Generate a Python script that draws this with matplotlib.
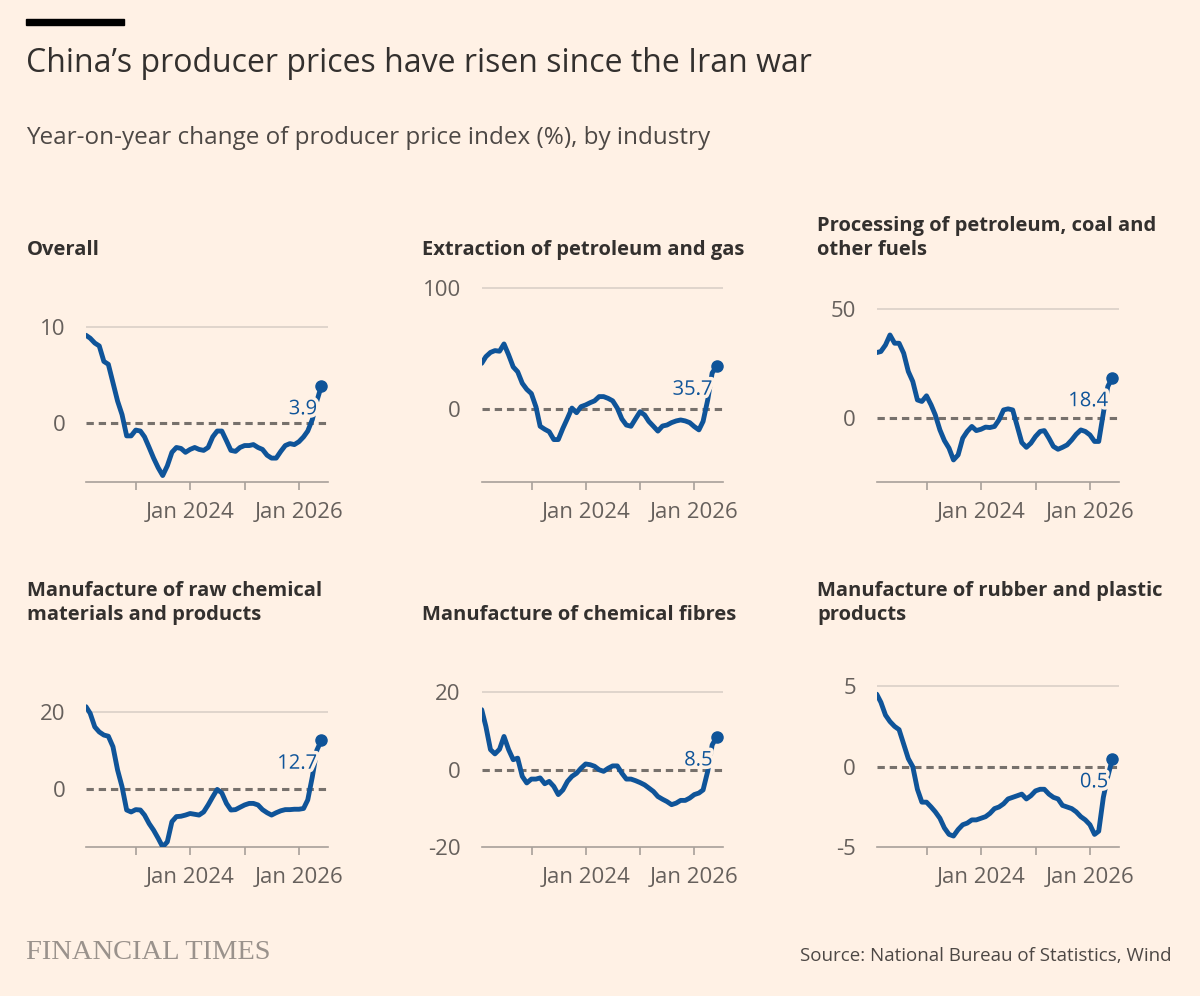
import numpy as np
import pandas as pd
import matplotlib
matplotlib.use('Agg')
import matplotlib.pyplot as plt
import matplotlib.patheffects as pe

# data: monthly y/y change, Jan 2022 .. May 2026
dates = pd.date_range('2022-01-31', '2026-05-31', freq='ME')

titles = [
    "Overall",
    "Extraction of petroleum and gas",
    "Processing of petroleum, coal and\nother fuels",
    "Manufacture of raw chemical\nmaterials and products",
    "Manufacture of chemical fibres",
    "Manufacture of rubber and plastic\nproducts",
]

overall = [9.1, 8.8, 8.3, 8.0, 6.4, 6.1, 4.2, 2.3, 0.9, -1.3, -1.3, -0.7,
           -0.8, -1.4, -2.5, -3.6, -4.6, -5.4, -4.4, -3.0, -2.5, -2.6, -3.0, -2.7,
           -2.5, -2.7, -2.8, -2.5, -1.4, -0.8, -0.8, -1.8, -2.8, -2.9, -2.5, -2.3,
           -2.3, -2.2, -2.5, -2.7, -3.3, -3.6, -3.6, -2.9, -2.3, -2.1, -2.2, -1.9,
           -1.4, -0.8, 0.4, 2.3, 3.9]

extraction = [38, 43.5, 47, 48.5, 48, 54, 45, 35, 31, 21.5, 16.5, 13,
              2, -14, -16.5, -18.5, -25, -25, -15.7, -7.4, 1, -2.8, 2.2, 3.6,
              5.5, 7, 10.5, 10.5, 9, 7, 1, -8, -13, -14, -8, -2,
              -4.7, -10, -14, -18, -13.8, -13, -11, -9.6, -8.8, -9.6, -11, -14.3,
              -17, -10, 7.7, 30, 35.7]

processing = [29.9, 30.4, 33.4, 38, 34.2, 34.2, 29.6, 21.2, 16.6, 8.1, 7.4, 10,
              5.8, 1.2, -5.7, -10.6, -14.1, -19.5, -17.2, -9.5, -6.4, -4.1, -6, -5.4,
              -4.4, -4.6, -4.1, -1.1, 3.5, 4, 3.5, -4.1, -11.5, -13.7, -11.8, -8.7,
              -6.4, -6, -9.5, -13.3, -14.6, -13.7, -12.6, -10.3, -7.7, -5.7, -6.4, -8,
              -11, -11, 2, 14.3, 18.4]

chemical = [21.3, 19.6, 16.1, 14.8, 14, 13.7, 11, 5, 0.7, -5.3, -5.8, -5.2,
            -5.3, -6.6, -8.8, -10.5, -12.6, -14.8, -13.5, -8.3, -7, -6.9, -6.6, -6.2,
            -6.4, -6.6, -5.8, -4, -1.9, 0, -0.9, -3.6, -5.3, -5.2, -4.6, -4,
            -3.6, -3.6, -4, -5.2, -6, -6.6, -6, -5.5, -5.2, -5.2, -5.1, -5.1,
            -4.9, -2.7, 3.3, 10.1, 12.7]

fibres = [15.5, 11.2, 5.2, 4.1, 5.3, 8.6, 5.2, 2.6, 3, -1.7, -3.4, -2.4,
          -2.4, -2.1, -3.6, -3, -4.3, -6.4, -5.2, -3, -1.7, -0.9, 0.4, 1.5,
          1.3, 0.9, 0, -0.4, 0.4, 1, 1, -0.9, -2.4, -2.4, -2.8, -3.3,
          -3.9, -4.7, -5.6, -6.9, -7.6, -8.2, -9, -8.6, -7.9, -7.9, -7.3, -6.4,
          -6, -5.2, -0.4, 6.4, 8.5]

rubber = [4.5, 4.0, 3.2, 2.8, 2.5, 2.3, 1.4, 0.5, 0, -1.4, -2.2, -2.2,
          -2.5, -2.8, -3.2, -3.8, -4.2, -4.3, -3.9, -3.6, -3.5, -3.3, -3.3, -3.2,
          -3.1, -2.9, -2.6, -2.5, -2.3, -2.0, -1.9, -1.8, -1.7, -2.0, -1.8, -1.5,
          -1.4, -1.4, -1.7, -1.9, -2.0, -2.4, -2.5, -2.6, -2.8, -3.1, -3.3, -3.6,
          -4.2, -4.0, -1.9, -0.6, 0.5]

series = [overall, extraction, processing, chemical, fibres, rubber]
yticks = [[0, 10], [0, 100], [0, 50], [0, 20], [-20, 0, 20], [-5, 0, 5]]
ylims = [(-6.1, 14.3), (-60.3, 102.7), (-29.8, 61), (-14.9, 35.9), (-20, 30.9), (-5, 7.24)]

BG = '#FFF1E5'
BLUE = '#0F5499'
DARK = '#33302E'
GREY = '#66605C'

plt.rcParams['font.family'] = ['Open Sans', 'DejaVu Sans']

fig = plt.figure(figsize=(12, 9.96), dpi=100)
fig.patch.set_facecolor(BG)

W, H = 1200, 996
def px(x0, y0, x1, y1):
    return [x0 / W, 1 - y1 / H, (x1 - x0) / W, (y1 - y0) / H]

cols = [(86, 328), (481.7, 723.3), (876.7, 1119)]
rows = [(285, 482.3), (650, 847.3)]
title_x = [27, 422, 817]
title_y = [260, 625]

# top bar + headings
fig.patches.append(plt.Rectangle((26 / W, 1 - 25.5 / H), 98 / W, 6.5 / H,
                                 transform=fig.transFigure, color='black'))
fig.text(26 / W, 1 - 64 / H, "China\u2019s producer prices have risen since the Iran war",
         fontsize=23, color=DARK, va='center', ha='left')
fig.text(26 / W, 1 - 138 / H, "Year-on-year change of producer price index (%), by industry",
         fontsize=17.5, color='#4D4845', va='center', ha='left')

for i, vals in enumerate(series):
    r, c = divmod(i, 3)
    ax = fig.add_axes(px(cols[c][0], rows[r][0], cols[c][1], rows[r][1]))
    ax.set_facecolor('none')
    ax.set_xlim(pd.Timestamp('2022-01-31'), pd.Timestamp('2026-07-14'))
    ax.set_ylim(*ylims[i])

    for t in yticks[i]:
        if t == 0:
            ax.axhline(0, color='#77716C', lw=2.2, ls=(0, (2.4, 1.6)), zorder=2)
        elif t != ylims[i][0]:
            ax.axhline(t, color='#DDD3CA', lw=1.3, zorder=1)

    ax.plot(dates, vals, color=BLUE, lw=3.5, solid_capstyle='round',
            solid_joinstyle='round', zorder=3)
    ax.plot(dates[-1], vals[-1], 'o', color=BLUE, ms=8, zorder=4)
    ax.annotate(f"{vals[-1]:.1f}", (dates[-1], vals[-1]), xytext=(-3, -17),
                textcoords='offset points', ha='right', va='center',
                fontsize=14.5, color=BLUE, zorder=5,
                path_effects=[pe.withStroke(linewidth=5, foreground=BG)])

    for s in ['top', 'right', 'left']:
        ax.spines[s].set_visible(False)
    ax.spines['bottom'].set_color('#A8A09A')
    ax.spines['bottom'].set_linewidth(1.2)

    ax.set_xticks([pd.Timestamp(f'{y}-01-01') for y in (2023, 2024, 2025, 2026)])
    ax.set_xticklabels(['', 'Jan 2024', '', 'Jan 2026'])
    ax.tick_params(axis='x', length=6, width=1.2, color='#A8A09A', labelsize=16,
                   labelcolor=GREY, pad=8)
    ax.set_yticks(yticks[i])
    ax.set_yticklabels([str(t) for t in yticks[i]])
    ax.tick_params(axis='y', length=0, labelsize=16, labelcolor=GREY, pad=15)

    fig.text(title_x[c] / W, 1 - title_y[r] / H, titles[i], fontsize=14.5,
             fontweight='bold', color=DARK, ha='left', va='bottom', linespacing=1.25)

fig.text(26 / W, 1 - 952 / H, "FINANCIAL TIMES", family='Liberation Serif',
         fontsize=20.5, color='#9A928C', ha='left', va='center')
fig.text(1172 / W, 1 - 956 / H, "Source: National Bureau of Statistics, Wind",
         fontsize=13.5, color='#4D4845', ha='right', va='center')

fig.savefig('out.png', dpi=100, facecolor=BG)
